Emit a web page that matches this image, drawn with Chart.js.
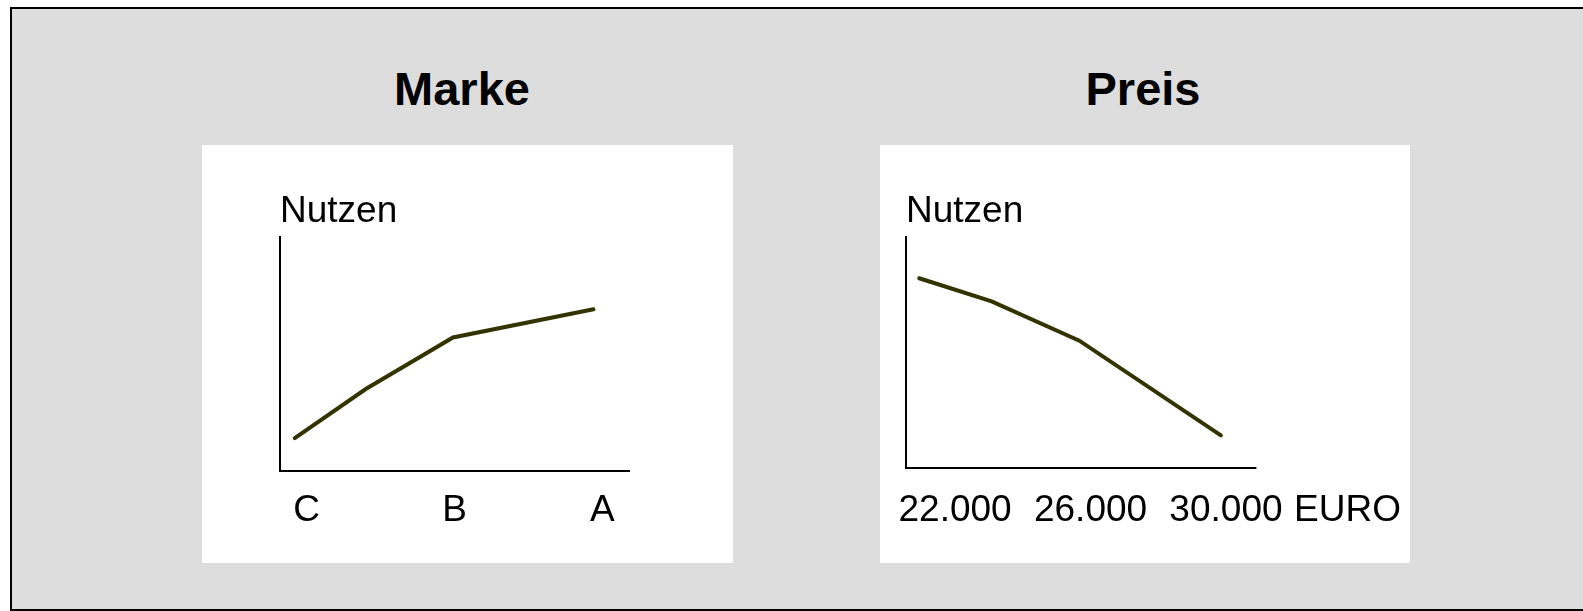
<!DOCTYPE html>
<html>
<head>
<meta charset="utf-8">
<title>Marke und Preis – Nutzenverläufe</title>
<script src="https://cdn.jsdelivr.net/npm/chart.js@4/dist/chart.umd.min.js"></script>
<style>
  html, body { margin: 0; padding: 0; background: #ffffff; width: 1583px; height: 611px; overflow: hidden; }
  #rahmen { position: absolute; left: 10px; top: 7px; width: 1600px; height: 604px; box-sizing: border-box;
            border: 2px solid #000; border-right: none; background: #dddddd; }
  .kopf { position: absolute; top: 65px; font: bold 47px Arial, "Liberation Sans", sans-serif; line-height: 47px;
          color: #000; white-space: nowrap; transform: translateX(-50%); }
  .feld { position: absolute; top: 145px; height: 418px; background: #ffffff; }
  .feld canvas { display: block; }
</style>
</head>
<body>
<div id="rahmen"></div>
<div class="kopf" style="left:462px">Marke</div>
<div class="kopf" style="left:1143px">Preis</div>
<div class="feld" style="left:202px;width:531px"><canvas id="marke" width="531" height="418"></canvas></div>
<div class="feld" style="left:880px;width:530px"><canvas id="preis" width="530" height="418"></canvas></div>

<script>
// Nutzen der Marke: Ausprägungen C, B, A
const markeKategorien = ['C', 'B', 'A'];
const markeX = [-0.08, 0.4, 0.99, 1.94];
const markeNutzen = [14, 35, 57, 69];

// Nutzen des Preises in EURO
const preisWerte = [22000, 26000, 30000];
const preisLabels = ['22.000', '26.000', '30.000'];
const preisEinheit = 'EURO';
const preisX = [20940, 23080, 25670, 29850];
const preisNutzen = [82, 72, 55, 14];

const yTitel = 'Nutzen';

const SCHRIFT = 'Arial, "Liberation Sans", sans-serif';
const TINTE = '#000000';
const KURVE = '#333300';
const text37 = { family: SCHRIFT, size: 37, weight: 'normal', lineHeight: 1.2 };

Chart.defaults.font.family = SCHRIFT;
Chart.defaults.color = TINTE;

// x-Achse, die vor dem Ende der Skala aufhört (Platz für die Einheit)
const achsenLinie = {
  id: 'achsenLinie',
  afterDatasetsDraw(chart, args, opts) {
    if (opts.ende == null) return;
    const { ctx, chartArea, scales } = chart;
    const y = Math.round(chartArea.bottom);
    ctx.save();
    ctx.strokeStyle = opts.farbe;
    ctx.lineWidth = opts.breite;
    ctx.beginPath();
    ctx.moveTo(chartArea.left - opts.breite / 2, y);
    ctx.lineTo(scales.x.getPixelForValue(opts.ende), y);
    ctx.stroke();
    ctx.restore();
  }
};

function kurve(xs, ys) {
  return {
    data: xs.map((x, i) => ({ x, y: ys[i] })),
    borderColor: KURVE,
    borderWidth: 4,
    borderCapStyle: 'round',
    pointRadius: 0,
    tension: 0,
    fill: false
  };
}

function yAchse() {
  return {
    min: 0, max: 100,
    ticks: { display: false },
    grid: { display: false, drawTicks: false },
    border: { display: true, color: TINTE, width: 2 },
    afterFit: s => { s.width = 0; }
  };
}

function nutzenTitel() {
  return {
    display: true, text: yTitel, align: 'start', fullSize: false,
    color: TINTE, font: text37, padding: { top: 0, bottom: 2.3 }
  };
}

new Chart(document.getElementById('marke'), {
  type: 'line',
  data: { datasets: [kurve(markeX, markeNutzen)] },
  options: {
    responsive: false, animation: false, events: [],
    layout: { padding: { left: 78, right: 104, top: 45, bottom: 0 } },
    plugins: { legend: { display: false }, tooltip: { enabled: false }, title: nutzenTitel() },
    scales: {
      x: {
        type: 'linear', min: -0.18, max: 2.18,
        grid: { display: false, drawTicks: false },
        border: { display: true, color: TINTE, width: 2 },
        afterBuildTicks: s => { s.ticks = markeKategorien.map((_, i) => ({ value: i })); },
        ticks: { callback: (v, i) => markeKategorien[i], font: text37, color: TINTE, padding: 18,
                 maxRotation: 0, autoSkip: false },
        afterFit: s => { s.height = 92; s.paddingLeft = 0; s.paddingRight = 0; }
      },
      y: yAchse()
    }
  }
});

new Chart(document.getElementById('preis'), {
  type: 'line',
  data: { datasets: [kurve(preisX, preisNutzen)] },
  plugins: [achsenLinie],
  options: {
    responsive: false, animation: false, events: [],
    layout: { padding: { left: 26, right: 9, top: 45, bottom: 0 } },
    plugins: {
      legend: { display: false }, tooltip: { enabled: false }, title: nutzenTitel(),
      achsenLinie: { ende: 30900, farbe: TINTE, breite: 2 }
    },
    scales: {
      x: {
        type: 'linear', min: 20550, max: 35170,
        grid: { display: false, drawTicks: false },
        border: { display: false },
        afterBuildTicks: s => { s.ticks = preisWerte.map(v => ({ value: v })); },
        ticks: { callback: (v, i) => preisLabels[i], font: text37, color: TINTE, padding: 21.3,
                 maxRotation: 0, autoSkip: false },
        title: { display: true, text: preisEinheit, align: 'end', color: TINTE, font: text37,
                 padding: { top: 0, bottom: 29.6 } },
        afterFit: s => { s.height = 95.3; s.paddingLeft = 0; s.paddingRight = 0; }
      },
      y: yAchse()
    }
  }
});
</script>
</body>
</html>
